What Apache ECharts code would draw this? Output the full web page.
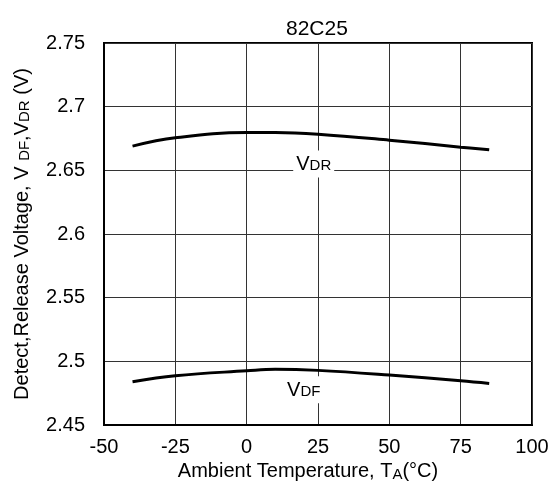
<!DOCTYPE html>
<html><head><meta charset="utf-8">
<script src="https://cdn.jsdelivr.net/npm/echarts@6/dist/echarts.min.js"></script>
<style>html,body{margin:0;padding:0;background:#fff}#c{width:557px;height:493px}</style>
</head><body><div id="c"></div>
<script>
const chartTitle = '82C25';
const temps = [-40, -25, 0, 10, 25, 50, 75, 85];
const vdr = [2.669, 2.6755, 2.6797, 2.6797, 2.6784, 2.6737, 2.6682, 2.6661];
const vdf = [2.4840, 2.4887, 2.4926, 2.4938, 2.4929, 2.4892, 2.4847, 2.4826];
const xTicks = [-50, -25, 0, 25, 50, 75, 100];
const yTicks = [2.45, 2.5, 2.55, 2.6, 2.65, 2.7, 2.75];
const vdrLabelAt = [23.5, 2.655];
const vdfLabelAt = [20, 2.4776];

const FONT = 'Liberation Sans, Arial, sans-serif';
const chart = echarts.init(document.getElementById('c'));
const lbl = (main, sub, pos) => ({
  coord: pos, symbolSize: 0,
  label: {
    show: true, position: 'inside', formatter: main + '{s|' + sub + '}',
    fontFamily: FONT, fontSize: 20, color: '#000', backgroundColor: '#fff',
    padding: [4, 3, 3, 3],
    rich: { s: { fontFamily: FONT, fontSize: 15, color: '#000', verticalAlign: 'bottom', padding: [0,0,1,0] } }
  }
});
chart.setOption({
  animation: false,
  backgroundColor: '#fff',
  title: { text: chartTitle, left: 281, top: 14,
    textStyle: { fontFamily: FONT, fontSize: 21, fontWeight: 'normal', color: '#000' } },
  grid: { left: 104, right: 25, top: 43, bottom: 68, show: true, borderColor: '#000', borderWidth: 2, backgroundColor: 'transparent' },
  xAxis: {
    type: 'value', min: xTicks[0], max: xTicks[xTicks.length - 1], interval: 25,
    name: 'Ambient Temperature, T{s|A}(°C)', nameLocation: 'middle', nameGap: 31,
    nameTextStyle: { fontFamily: FONT, fontSize: 20, color: '#000', padding: [0, 20, 0, 0],
      rich: { s: { fontFamily: FONT, fontSize: 15, color: '#000', verticalAlign: 'bottom', padding: [6,0,0,0] } } },
    axisLine: { show: true, onZero: false, lineStyle: { color: '#000', width: 2 } },
    axisTick: { show: false },
    axisLabel: { fontFamily: FONT, fontSize: 20, color: '#000', margin: 12 },
    splitLine: { show: true, lineStyle: { color: '#333', width: 1 } }
  },
  yAxis: {
    type: 'value', min: yTicks[0], max: yTicks[yTicks.length - 1], interval: 0.05,
    name: 'Detect,Release Voltage, V {s|DF},V{s|DR} (V)', nameLocation: 'middle', nameGap: 72, nameRotate: 90,
    nameTextStyle: { fontFamily: FONT, fontSize: 20, color: '#000',
      rich: { s: { fontFamily: FONT, fontSize: 15, color: '#000', verticalAlign: 'bottom', padding: [4,0,0,0] } } },
    axisLine: { show: true, onZero: false, lineStyle: { color: '#000', width: 2 } },
    axisTick: { show: false },
    axisLabel: { fontFamily: FONT, fontSize: 20, color: '#000', margin: 19 },
    splitLine: { show: true, lineStyle: { color: '#333', width: 1 } }
  },
  series: [
    { type: 'line', name: 'VDR', data: temps.map((t, i) => [t, vdr[i]]), smooth: 0.4, showSymbol: false,
      lineStyle: { color: '#000', width: 3 }, z: 3,
      markPoint: { symbol: 'circle', data: [lbl('V', 'DR', vdrLabelAt)] } },
    { type: 'line', name: 'VDF', data: temps.map((t, i) => [t, vdf[i]]), smooth: 0.4, showSymbol: false,
      lineStyle: { color: '#000', width: 3 }, z: 3,
      markPoint: { symbol: 'circle', data: [lbl('V', 'DF', vdfLabelAt)] } }
  ]
});
</script></body></html>
